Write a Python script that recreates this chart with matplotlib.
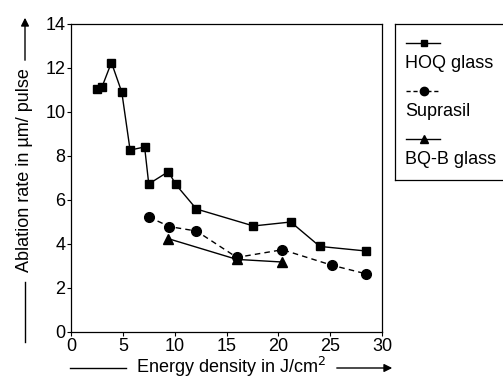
import numpy as np
from matplotlib import pyplot as plt
from matplotlib.lines import Line2D

plt.rcParams['font.family'] = ['Liberation Sans', 'DejaVu Sans']

# data
hoq_x = [2.5, 3.0, 3.9, 4.9, 5.7, 7.1, 7.5, 9.4, 10.1, 12.1, 17.6, 21.2, 24.0, 28.5]
hoq_y = [11.05, 11.15, 12.25, 10.9, 8.27, 8.41, 6.73, 7.29, 6.71, 5.59, 4.82, 5.0, 3.89, 3.68]

sup_x = [7.5, 9.5, 12.1, 16.0, 20.4, 25.2, 28.5]
sup_y = [5.23, 4.79, 4.59, 3.39, 3.74, 3.03, 2.64]

bqb_x = [9.4, 16.0, 20.4]
bqb_y = [4.24, 3.30, 3.18]

labels = ["HOQ glass", "Suprasil", "BQ-B glass"]

fig = plt.figure(figsize=(5.03, 3.78), dpi=100)
ax = fig.add_axes([71/503, 46/378, 311/503, 308/378])

ax.plot(hoq_x, hoq_y, '-', color='black', lw=1, marker='s', ms=6)
ax.plot(sup_x, sup_y, '--', color='black', lw=1, marker='o', ms=7, dashes=(4, 3))
ax.plot(bqb_x, bqb_y, '-', color='black', lw=1, marker='^', ms=7)

ax.set_xlim(0, 30)
ax.set_ylim(0, 14)
ax.set_xticks([0, 5, 10, 15, 20, 25, 30])
ax.set_yticks([0, 2, 4, 6, 8, 10, 12, 14])
ax.tick_params(direction='out', length=3, width=0.8, labelsize=13, pad=1)
for s in ax.spines.values():
    s.set_linewidth(0.9)

# axis labels with arrows
fig.text(231/503, 1 - 373/378, "Energy density in J/cm$^2$", ha='center', va='baseline', fontsize=13)
fig.add_artist(Line2D([70/503, 126/503], [1 - 368/378] * 2, color='black', lw=1))
ax.annotate('', xy=(395/503, 1 - 368/378), xytext=(334/503, 1 - 368/378),
            xycoords='figure fraction',
            arrowprops=dict(arrowstyle='-|>', color='black', lw=1, mutation_scale=12))

fig.text(25/503, 1 - 170/378, "Ablation rate in µm/ pulse", ha='center', va='center',
         rotation=90, fontsize=13)
fig.add_artist(Line2D([25/503] * 2, [1 - 342/378, 1 - 282/378], color='black', lw=1))
ax.annotate('', xy=(25/503, 1 - 15/378), xytext=(25/503, 1 - 63/378),
            xycoords='figure fraction',
            arrowprops=dict(arrowstyle='-|>', color='black', lw=1, mutation_scale=12))

# legend box
lax = fig.add_axes([395/503, 1 - 180/378, 120/503, 156/378])
lax.set_xlim(0, 120)
lax.set_ylim(156, 0)
lax.set_xticks([])
lax.set_yticks([])
for s in lax.spines.values():
    s.set_linewidth(0.9)
styles = [('-', 's', 5), ('--', 'o', 6), ('-', '^', 6)]
for i, (lab, (ls, mk, ms)) in enumerate(zip(labels, styles)):
    yy = 19 + i * 48
    lax.plot([11, 45], [yy, yy], ls=ls, color='black', lw=1, dashes=(3, 2) if ls == '--' else (None, None))
    lax.plot([29], [yy], marker=mk, color='black', ms=ms)
    lax.text(10, yy + 21, lab, fontsize=13, va='center', ha='left')

fig.savefig("out.png", dpi=100)
